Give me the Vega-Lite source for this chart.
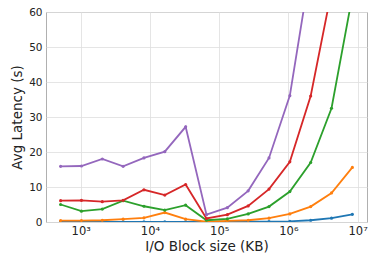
{
  "$schema": "https://vega.github.io/schema/vega-lite/v6.json",
  "autosize": "none",
  "width": 321,
  "height": 210,
  "padding": {"left": 46, "top": 12, "right": 1, "bottom": 39},
  "background": "white",
  "config": {
    "font": "DejaVu Sans",
    "view": {"stroke": "#b0b0b0", "strokeWidth": 1},
    "axis": {"domain": false, "ticks": false, "gridColor": "#dedede", "gridWidth": 0.8, "labelColor": "#222", "titleColor": "#222", "labelFont": "DejaVu Sans", "titleFont": "DejaVu Sans", "titleFontWeight": "normal"}
  },
  "data": {"values": [
    {"x":512,"s":"a","v":0.05},{"x":1024,"s":"a","v":0.05},{"x":2048,"s":"a","v":0.05},{"x":4096,"s":"a","v":0.05},{"x":8192,"s":"a","v":0.05},{"x":16384,"s":"a","v":0.05},{"x":32768,"s":"a","v":0.05},{"x":65536,"s":"a","v":0.05},{"x":131072,"s":"a","v":0.06},{"x":262144,"s":"a","v":0.07},{"x":524288,"s":"a","v":0.1},{"x":1048576,"s":"a","v":0.2},{"x":2097152,"s":"a","v":0.5},{"x":4194304,"s":"a","v":1.1},{"x":8388608,"s":"a","v":2.2},
    {"x":512,"s":"b","v":0.4},{"x":1024,"s":"b","v":0.4},{"x":2048,"s":"b","v":0.5},{"x":4096,"s":"b","v":0.8},{"x":8192,"s":"b","v":1.2},{"x":16384,"s":"b","v":2.7},{"x":32768,"s":"b","v":0.8},{"x":65536,"s":"b","v":0.1},{"x":131072,"s":"b","v":0.3},{"x":262144,"s":"b","v":0.5},{"x":524288,"s":"b","v":1.1},{"x":1048576,"s":"b","v":2.3},{"x":2097152,"s":"b","v":4.4},{"x":4194304,"s":"b","v":8.3},{"x":8388608,"s":"b","v":15.6},
    {"x":512,"s":"c","v":5.0},{"x":1024,"s":"c","v":3.1},{"x":2048,"s":"c","v":3.7},{"x":4096,"s":"c","v":6.1},{"x":8192,"s":"c","v":4.5},{"x":16384,"s":"c","v":3.4},{"x":32768,"s":"c","v":4.8},{"x":65536,"s":"c","v":0.5},{"x":131072,"s":"c","v":0.9},{"x":262144,"s":"c","v":2.3},{"x":524288,"s":"c","v":4.4},{"x":1048576,"s":"c","v":8.7},{"x":2097152,"s":"c","v":17.0},{"x":4194304,"s":"c","v":32.5},{"x":8388608,"s":"c","v":64.6},
    {"x":512,"s":"d","v":6.1},{"x":1024,"s":"d","v":6.2},{"x":2048,"s":"d","v":5.8},{"x":4096,"s":"d","v":6.2},{"x":8192,"s":"d","v":9.2},{"x":16384,"s":"d","v":7.7},{"x":32768,"s":"d","v":10.7},{"x":65536,"s":"d","v":1.0},{"x":131072,"s":"d","v":2.1},{"x":262144,"s":"d","v":4.6},{"x":524288,"s":"d","v":9.4},{"x":1048576,"s":"d","v":17.2},{"x":2097152,"s":"d","v":36.0},{"x":4194304,"s":"d","v":66},
    {"x":512,"s":"e","v":15.9},{"x":1024,"s":"e","v":16.0},{"x":2048,"s":"e","v":18.0},{"x":4096,"s":"e","v":15.9},{"x":8192,"s":"e","v":18.3},{"x":16384,"s":"e","v":20.1},{"x":32768,"s":"e","v":27.2},{"x":65536,"s":"e","v":2.1},{"x":131072,"s":"e","v":4.1},{"x":262144,"s":"e","v":8.9},{"x":524288,"s":"e","v":18.3},{"x":1048576,"s":"e","v":36.1},{"x":2097152,"s":"e","v":73}
  ]},
  "mark": {"type": "line", "clip": true, "strokeWidth": 1.8, "point": {"filled": true, "size": 10}},
  "encoding": {
    "x": {"field": "x", "type": "quantitative", "scale": {"type": "log", "domain": [315, 13650000], "nice": false}, "axis": {"values": [1000, 10000, 100000, 1000000, 10000000], "labelExpr": "datum.value < 5000 ? '10³' : datum.value < 50000 ? '10⁴' : datum.value < 500000 ? '10⁵' : datum.value < 5000000 ? '10⁶' : '10⁷'", "labelFontSize": 11.5, "labelPadding": 3, "title": "I/O Block size (KB)", "titleFontSize": 13.5, "titlePadding": 3}},
    "y": {"field": "v", "type": "quantitative", "scale": {"domain": [0, 60], "nice": false, "zero": true}, "axis": {"values": [0, 10, 20, 30, 40, 50, 60], "labelFontSize": 10.5, "labelPadding": 4, "title": "Avg Latency (s)", "titleFontSize": 13.5, "titlePadding": 4}},
    "color": {"field": "s", "type": "nominal", "scale": {"domain": ["a", "b", "c", "d", "e"], "range": ["#1f77b4", "#ff7f0e", "#2ca02c", "#d62728", "#9467bd"]}, "legend": null}
  }
}
